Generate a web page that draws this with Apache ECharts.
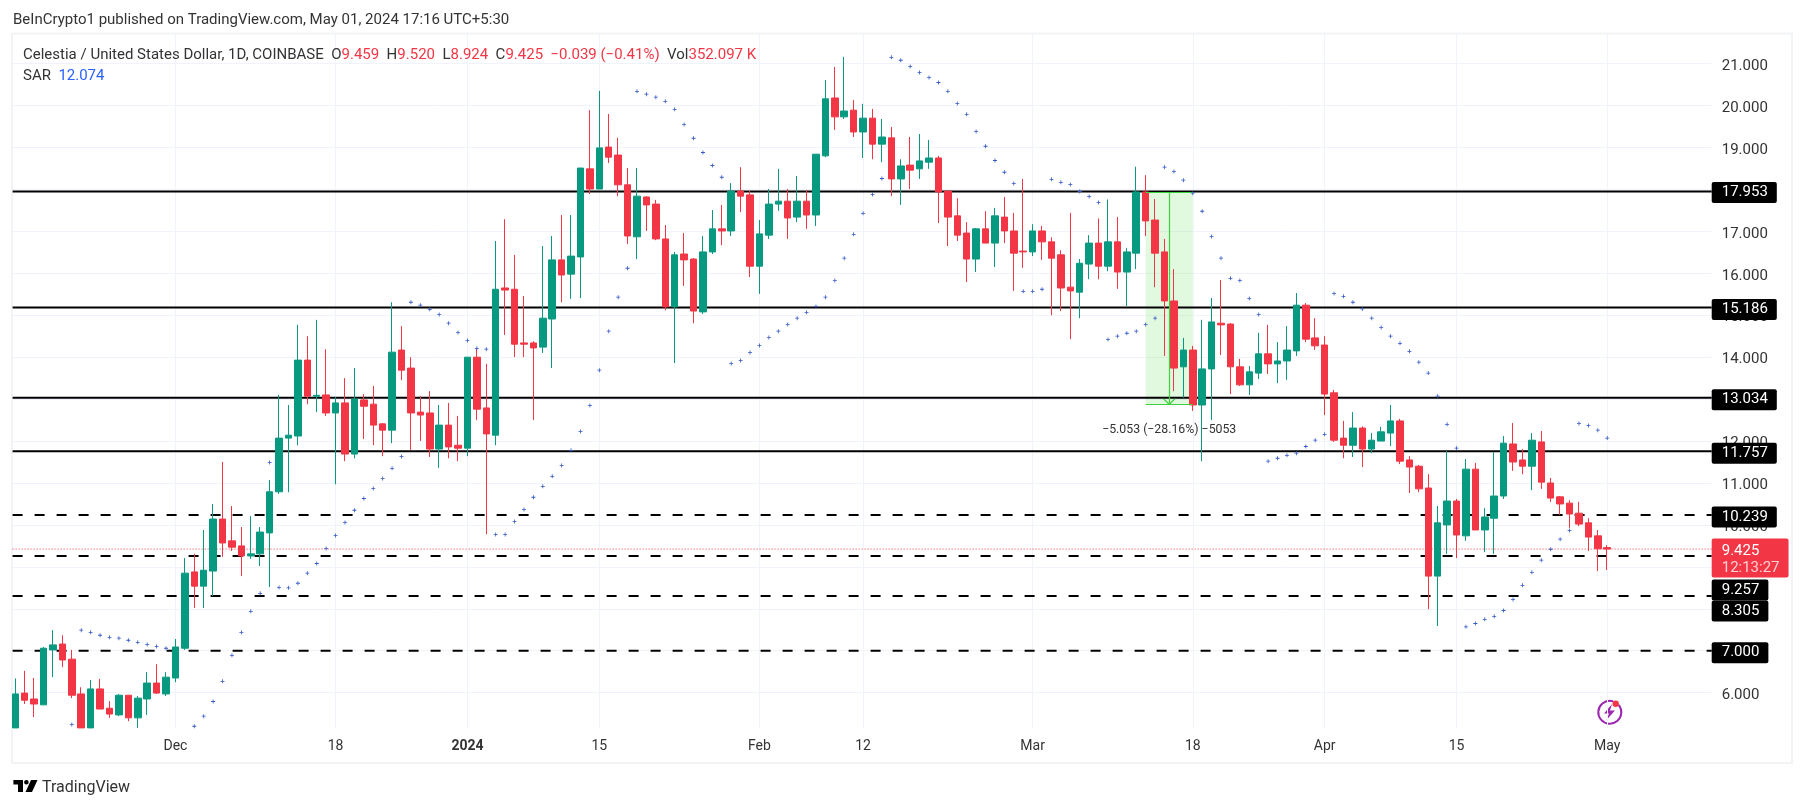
<!DOCTYPE html>
<html>
<head>
<meta charset="utf-8">
<title>Celestia / United States Dollar</title>
<style>
    html, body { margin: 0; padding: 0; background: #fff; }
    #chart { width: 1805px; height: 808px; }
</style>
</head>
<body>
<div id="chart"></div>
<script src="https://cdn.jsdelivr.net/npm/echarts@6/dist/echarts.min.js"></script>
<script>
const firstDay = '2023-11-14';

const opens = [
    5.16, 5.99, 5.85, 5.71, 7.02, 7.16, 6.80, 5.97, 5.16, 6.09,
    5.63, 5.47, 5.94, 5.40, 5.85, 6.23, 5.97, 6.35, 7.06, 8.88,
    8.54, 8.90, 10.14, 9.62, 9.50, 9.26, 9.31, 9.81, 10.79, 12.07,
    12.12, 13.93, 13.07, 13.10, 12.67, 12.91, 11.69, 12.98, 12.88, 12.41,
    12.26, 14.17, 13.74, 12.69, 12.67, 11.81, 12.38, 11.90, 11.83, 14.00,
    12.79, 12.14, 15.65, 15.62, 14.34, 14.34, 14.24, 14.91, 16.32, 15.98,
    16.39, 18.49, 18.01, 19.01, 18.82, 18.11, 16.87, 17.82, 17.65, 16.82,
    15.20, 16.46, 16.34, 15.08, 16.51, 17.06, 17.01, 17.96, 17.87, 16.17,
    16.91, 17.65, 17.72, 17.34, 17.72, 17.39, 18.80, 20.18, 19.73, 19.89,
    19.37, 19.70, 19.08, 19.23, 18.25, 18.58, 18.49, 18.65, 18.75, 17.96,
    17.37, 16.96, 16.34, 17.06, 16.72, 17.34, 17.01, 16.53, 16.51, 17.01,
    16.75, 16.44, 15.67, 15.55, 16.22, 16.72, 16.17, 16.75, 16.03, 16.48,
    17.94, 17.27, 16.51, 15.34, 13.77, 14.17, 12.86, 13.72, 14.81, 14.79,
    13.77, 13.34, 13.62, 14.08, 13.84, 13.91, 14.15, 15.24, 14.46, 14.29,
    13.15, 12.07, 11.90, 12.31, 11.81, 12.00, 12.19, 12.48, 11.55, 11.40,
    10.88, 8.78, 10.00, 10.57, 9.74, 11.33, 9.88, 10.16, 10.69, 11.93,
    11.55, 11.40, 11.98, 11.00, 10.67, 10.52, 10.28, 10.05, 9.74, 9.459,
];

const closes = [
    5.97, 5.82, 5.73, 7.06, 7.14, 6.78, 5.94, 5.16, 6.09, 5.61,
    5.49, 5.94, 5.40, 5.87, 6.23, 5.99, 6.37, 7.09, 8.85, 8.54,
    8.92, 10.14, 9.57, 9.47, 9.26, 9.31, 9.83, 10.79, 12.07, 12.14,
    13.93, 13.07, 13.09, 12.67, 12.91, 11.69, 13.00, 12.83, 12.38, 12.26,
    14.12, 13.69, 12.67, 12.62, 11.81, 12.38, 11.86, 11.83, 14.00, 12.76,
    12.17, 15.62, 15.60, 14.31, 14.31, 14.22, 14.93, 16.32, 15.96, 16.41,
    18.51, 18.01, 18.99, 18.77, 18.11, 16.89, 17.84, 17.63, 16.82, 15.20,
    16.44, 16.32, 15.10, 16.51, 17.06, 17.01, 17.96, 17.84, 16.17, 16.94,
    17.65, 17.72, 17.32, 17.72, 17.39, 18.84, 20.16, 19.73, 19.87, 19.37,
    19.70, 19.08, 19.25, 18.25, 18.56, 18.46, 18.68, 18.75, 17.94, 17.34,
    16.91, 16.34, 17.06, 16.72, 17.37, 17.01, 16.48, 16.51, 17.01, 16.75,
    16.36, 15.65, 15.58, 16.24, 16.72, 16.17, 16.75, 16.03, 16.51, 17.94,
    17.25, 16.48, 15.34, 13.74, 14.17, 12.86, 13.72, 14.84, 14.77, 13.77,
    13.34, 13.65, 14.08, 13.84, 13.91, 14.17, 15.24, 14.43, 14.27, 13.12,
    12.02, 11.90, 12.31, 11.81, 12.02, 12.22, 12.48, 11.52, 11.38, 10.86,
    8.78, 10.05, 10.57, 9.76, 11.33, 9.88, 10.19, 10.69, 11.95, 11.50,
    11.40, 12.02, 11.02, 10.64, 10.50, 10.26, 10.02, 9.71, 9.43, 9.425,
];

const highs = [
    6.34, 6.52, 6.35, 7.09, 7.49, 7.37, 7.02, 6.13, 6.30, 6.33,
    5.80, 5.97, 5.94, 5.92, 6.49, 6.68, 6.49, 7.28, 9.21, 9.31,
    9.88, 10.50, 11.50, 10.45, 9.95, 10.21, 9.95, 11.07, 13.10, 12.86,
    14.77, 14.50, 14.89, 14.19, 13.05, 13.50, 13.74, 13.12, 13.31, 12.43,
    15.31, 14.74, 14.00, 13.07, 13.19, 12.86, 12.91, 12.60, 14.00, 14.22,
    13.84, 16.77, 17.29, 16.44, 15.46, 14.38, 16.65, 16.89, 17.39, 17.39,
    18.51, 19.89, 20.35, 19.80, 19.23, 18.51, 18.51, 17.84, 17.75, 17.15,
    16.51, 16.96, 16.36, 16.89, 17.51, 17.63, 18.15, 18.53, 17.96, 17.27,
    18.01, 18.49, 18.01, 18.32, 17.99, 18.84, 20.61, 20.92, 21.16, 20.13,
    20.04, 19.92, 19.68, 19.49, 18.72, 19.25, 19.32, 19.18, 18.80, 17.96,
    17.79, 17.22, 17.08, 17.48, 17.56, 17.82, 17.44, 18.25, 17.17, 17.13,
    16.86, 16.55, 17.44, 16.34, 16.91, 17.31, 17.76, 17.34, 16.60, 18.54,
    18.34, 17.77, 16.82, 16.10, 14.46, 14.27, 14.89, 15.41, 15.84, 14.81,
    13.96, 13.79, 14.58, 14.77, 14.36, 14.74, 15.53, 15.29, 14.93, 14.50,
    13.22, 12.48, 12.69, 12.35, 12.19, 12.34, 12.86, 12.53, 11.64, 11.43,
    11.21, 10.45, 11.76, 10.62, 11.57, 11.48, 10.40, 11.74, 12.12, 12.43,
    11.81, 12.19, 12.24, 11.12, 10.69, 10.59, 10.55, 10.16, 9.88, 9.52,
];

const lows = [
    5.16, 5.73, 5.42, 5.71, 6.37, 6.61, 5.87, 5.16, 5.16, 5.61,
    5.40, 5.44, 5.32, 5.16, 5.47, 5.97, 5.92, 6.25, 7.02, 8.02,
    8.02, 8.30, 9.24, 9.38, 8.78, 9.19, 9.02, 8.52, 10.74, 10.78,
    11.90, 12.88, 12.69, 12.60, 10.97, 11.52, 11.59, 12.05, 11.90, 11.64,
    11.95, 13.45, 11.79, 12.00, 11.62, 11.36, 11.59, 11.52, 11.64, 12.50,
    9.78, 11.90, 14.53, 14.00, 14.00, 12.50, 14.10, 13.74, 15.31, 15.39,
    15.41, 17.89, 18.01, 18.63, 17.84, 16.70, 16.34, 17.01, 16.79, 15.12,
    13.86, 15.70, 14.81, 15.03, 16.46, 16.67, 16.89, 17.46, 15.91, 15.51,
    16.82, 17.49, 16.82, 17.22, 17.06, 17.13, 18.77, 19.42, 19.68, 19.25,
    18.75, 18.72, 18.65, 17.84, 17.63, 18.01, 18.25, 18.49, 17.20, 16.65,
    16.77, 15.79, 16.03, 16.72, 16.15, 16.72, 15.58, 16.13, 16.41, 16.32,
    15.00, 15.10, 14.43, 14.93, 15.86, 15.86, 16.05, 15.63, 15.22, 16.10,
    16.89, 15.67, 14.03, 13.19, 13.03, 12.72, 11.52, 12.50, 14.05, 13.12,
    13.31, 13.10, 13.48, 13.60, 13.38, 13.46, 14.03, 14.36, 14.17, 12.62,
    11.98, 11.59, 11.62, 11.38, 11.71, 12.00, 11.88, 11.45, 10.76, 10.78,
    7.99, 7.59, 9.31, 9.21, 9.62, 9.88, 9.35, 9.31, 10.62, 11.29,
    11.21, 10.83, 10.86, 10.55, 10.24, 9.93, 9.97, 9.38, 8.90, 8.924,
];

const sarValues = [
    null, null, null, null, null, null, 5.24, 7.49, 7.44, 7.37,
    7.32, 7.30, 7.25, 7.20, 7.15, 7.10, 7.06, null, null, 5.20,
    5.44, 5.79, 6.27, 6.89, 7.44, 7.94, 8.37, 11.49, 8.51, 8.50,
    8.61, 8.85, 9.08, 9.44, 9.75, 10.06, 10.35, 10.63, 10.87, 11.11,
    11.35, 11.63, 15.31, 15.24, 15.14, 15.02, 14.81, 14.59, 14.40, 14.21,
    14.19, 9.77, 9.77, 10.08, 10.37, 10.66, 10.92, 11.16, 11.42, 11.78,
    12.23, 12.85, 13.69, 14.62, 15.43, 16.12, 20.34, 20.27, 20.20, 20.10,
    19.91, 19.55, 19.22, 18.88, 18.57, 18.29, 13.85, 13.92, 14.11, 14.28,
    14.47, 14.62, 14.78, 14.93, 15.07, 15.21, 15.43, 15.83, 16.36, 16.93,
    17.43, 17.88, 18.26, 21.15, 21.08, 20.93, 20.79, 20.67, 20.55, 20.34,
    20.05, 19.79, 19.38, 19.03, 18.69, 18.41, 18.14, 15.57, 15.57, 15.62,
    18.24, 18.17, 18.12, 17.95, 17.83, 17.69, 14.42, 14.50, 14.57, 14.62,
    14.78, 14.93, 18.53, 18.43, 18.22, 17.91, 17.48, 16.88, 16.36, 15.88,
    15.83, 15.40, 15.02, 11.52, 11.59, 11.66, 11.71, 11.87, 12.02, 12.16,
    15.52, 15.45, 15.31, 15.15, 14.93, 14.71, 14.50, 14.33, 14.14, 13.88,
    13.62, 13.07, 12.40, 11.83, 7.57, 7.65, 7.75, 7.82, 7.96, 8.22,
    8.56, 8.87, 9.16, 9.42, 9.66, 9.87, 12.42, 12.37, 12.26, 12.07,
];

const solidLevels = [17.953, 15.186, 13.034, 11.757];
const dashedLevels = [10.239, 9.257, 8.305, 7.000];
const lastPrice = 9.425;
const countdown = '12:13:27';

const priceTicks = [6, 7, 8, 9, 10, 11, 12, 13, 14, 15, 16, 17, 18, 19, 20, 21];
const dayTicks = ['2023-12-01', '2023-12-18', '2024-01-01', '2024-01-15', '2024-02-01', '2024-02-12',
    '2024-03-01', '2024-03-18', '2024-04-01', '2024-04-15', '2024-05-01'];
const dayTickLabels = ['Dec', '18', '2024', '15', 'Feb', '12', 'Mar', '18', 'Apr', '15', 'May'];

const measureFrom = '2024-03-13';
const measureTo = '2024-03-18';
const measureTop = 17.93;
const measureBottom = 12.877;
const measureText = '\u22125.053 (\u221228.16%) \u22125053';

const GREEN = '#089981';
const RED = '#f23645';
const FONT = 'Roboto, sans-serif';

// x axis runs in whole days since the first candle, time axes do not take custom ticks
const toDay = s => (new Date(s).getTime() - new Date(firstDay).getTime()) / 86400000;
const tickDays = dayTicks.map(toDay);
const xMin = -0.287;
const xMax = 180.09;
const yMin = 5.158;
const yMax = 21.706;

const levelSeries = (value, dash) => ({
    type: 'line',
    z: 3,
    silent: true,
    symbol: 'none',
    lineStyle: {color: '#000', width: 2, type: dash},
    data: [[xMin, value], [xMax, value]],
});

// pushed down like the tags in the reference, they would collide with the red one
const tagShift = {17.953: 1, 15.186: 2, 13.034: 2, 11.757: 2, 10.239: 2, 9.257: 34, 8.305: 15, 7.000: 2};

const tagItem = value => ({
    value: [xMax, value],
    label: {
        show: true,
        position: 'right',
        distance: 0,
        offset: [0, tagShift[value]],
        formatter: value.toFixed(3),
        color: '#fff',
        backgroundColor: '#000',
        borderRadius: 2,
        padding: [4, 9, 3, 10],
        fontFamily: FONT,
        fontSize: 15,
        lineHeight: 14,
    },
});

const measureMid = (toDay(measureFrom) + toDay(measureTo)) / 2;
const segment = (x1, y1, x2, y2) => [{xAxis: x1, yAxis: y1}, {xAxis: x2, yAxis: y2}];

const option = {
    animation: false,
    backgroundColor: '#fff',
    textStyle: {fontFamily: FONT},
    title: [
        {
            text: 'BeInCrypto1 published on TradingView.com, May 01, 2024 17:16 UTC+5:30',
            left: 13, top: 13, padding: 0,
            textStyle: {fontFamily: FONT, fontSize: 15, fontWeight: 'normal', color: '#333'},
        },
        {
            text: '{k|Celestia / United States Dollar, 1D, COINBASE}  {k|O}{v|9.459}  {k|H}{v|9.520}  {k|L}{v|8.924}  {k|C}{v|9.425}  {v|\u22120.039 (\u22120.41%)}  {k|Vol}{v|352.097 K}',
            left: 23, top: 48, padding: 0,
            textStyle: {
                fontSize: 15, fontWeight: 'normal',
                rich: {
                    k: {fontFamily: FONT, fontSize: 15, color: '#333'},
                    v: {fontFamily: FONT, fontSize: 15, color: RED},
                },
            },
        },
        {
            text: '{k|SAR}  {v|12.074}',
            left: 23, top: 69, padding: 0,
            textStyle: {
                fontSize: 15, fontWeight: 'normal',
                rich: {
                    k: {fontFamily: FONT, fontSize: 15, color: '#333'},
                    v: {fontFamily: FONT, fontSize: 15, color: '#2962ff'},
                },
            },
        },
        {
            text: 'TradingView',
            left: 42, top: 780, padding: 0,
            textStyle: {fontFamily: FONT, fontSize: 16, fontWeight: 'normal', color: '#333'},
        },
    ],
    grid: {left: 12.6, right: 93.3, top: 34, bottom: 80},
    xAxis: {
        type: 'value',
        min: xMin,
        max: xMax,
        axisLine: {show: false},
        axisTick: {show: false, customValues: tickDays},
        splitLine: {show: true, lineStyle: {color: '#f0f3fa', width: 1}},
        axisLabel: {
            customValues: tickDays,
            margin: 11,
            color: '#333',
            fontFamily: FONT,
            fontSize: 14,
            formatter: value => {
                const text = dayTickLabels[tickDays.indexOf(value)];
                return text === '2024' ? '{b|2024}' : text;
            },
            rich: {b: {fontFamily: FONT, fontSize: 14, fontWeight: 'bold', color: '#333'}},
        },
    },
    yAxis: {
        type: 'value',
        position: 'right',
        min: yMin,
        max: yMax,
        axisLine: {show: false},
        axisTick: {show: false, customValues: priceTicks},
        splitLine: {show: true, lineStyle: {color: '#f0f3fa', width: 1}},
        axisLabel: {
            customValues: priceTicks,
            margin: 10,
            formatter: value => `{n|${value.toFixed(3)}}`,
            rich: {n: {fontFamily: FONT, fontSize: 15, color: '#333', padding: [5, 0, 0, 0]}},
        },
    },
    series: [
        {
            name: 'measure',
            type: 'line',
            z: 2,
            silent: true,
            data: [],
            markArea: {
                silent: true,
                itemStyle: {color: 'rgba(76, 222, 60, 0.17)'},
                data: [segment(toDay(measureFrom), measureTop, toDay(measureTo), measureBottom)],
            },
            markLine: {
                silent: true,
                symbol: 'none',
                label: {show: false},
                lineStyle: {color: '#3ed23e', width: 1.2, type: 'solid'},
                data: [
                    segment(toDay(measureFrom), measureTop, toDay(measureTo), measureTop),
                    segment(toDay(measureFrom), measureBottom, toDay(measureTo), measureBottom),
                    segment(measureMid, measureTop, measureMid, measureBottom),
                    segment(measureMid - 0.6, measureBottom + 0.13, measureMid, measureBottom),
                    segment(measureMid + 0.6, measureBottom + 0.13, measureMid, measureBottom),
                ],
            },
        },
        ...solidLevels.map(v => levelSeries(v, 'solid')),
        ...dashedLevels.map(v => levelSeries(v, [10, 12])),
        {
            type: 'line',
            z: 3,
            silent: true,
            symbol: 'none',
            lineStyle: {color: RED, width: 1, type: [1, 2]},
            data: [[xMin, lastPrice], [xMax, lastPrice]],
        },
        {
            name: 'Celestia',
            type: 'candlestick',
            z: 4,
            barWidth: 7,
            itemStyle: {
                color: GREEN,
                color0: RED,
                borderColor: GREEN,
                borderColor0: RED,
                borderColorDoji: RED,
                borderWidth: 1,
            },
            data: opens.map((o, i) => [i, o, closes[i], lows[i], highs[i]]),
        },
        {
            name: 'SAR',
            type: 'scatter',
            z: 5,
            silent: true,
            symbol: 'path://M2 0h1v2h2v1H3v2H2V3H0V2h2z',
            symbolSize: 4,
            itemStyle: {color: '#3558c8', opacity: 1},
            data: sarValues.map((v, i) => [i, v]).filter(p => p[1] !== null),
        },
        {
            name: 'measure label',
            type: 'scatter',
            z: 6,
            silent: true,
            symbolSize: 0,
            itemStyle: {opacity: 1},
            data: [{
                value: [measureMid, measureBottom],
                label: {
                    show: true,
                    position: 'bottom',
                    distance: 20,
                    formatter: measureText,
                    color: '#333',
                    fontFamily: FONT,
                    fontSize: 12.3,
                },
            }],
        },
        {
            name: 'price tags',
            type: 'scatter',
            z: 7,
            silent: true,
            clip: false,
            symbolSize: 0,
            itemStyle: {opacity: 1},
            data: [
                ...solidLevels.map(tagItem),
                ...dashedLevels.map(tagItem),
                {
                    value: [xMax, lastPrice],
                    label: {
                        show: true,
                        position: 'right',
                        distance: 0,
                        offset: [0, 9],
                        formatter: `{p|${lastPrice.toFixed(3)}}\n{t|${countdown}}`,
                        backgroundColor: RED,
                        borderRadius: 2,
                        padding: [4, 9, 1, 10],
                        rich: {
                            p: {fontFamily: FONT, fontSize: 15, lineHeight: 17, color: '#fff'},
                            t: {fontFamily: FONT, fontSize: 15, lineHeight: 17, color: '#fbd0d4'},
                        },
                    },
                },
            ],
        },
    ],
    graphic: [
        {
            type: 'rect',
            z: -1,
            silent: true,
            shape: {x: 12, y: 33.5, width: 1780, height: 729.5},
            style: {fill: 'none', stroke: '#f1f3f5', lineWidth: 2},
        },
        // TradingView mark
        {type: 'polygon', silent: true, shape: {points: [[13.4, 780], [23, 780], [23, 792], [18, 792], [18, 784.6], [13.4, 784.6]]}, style: {fill: '#000'}},
        {type: 'circle', silent: true, shape: {cx: 26.4, cy: 782.3, r: 2.3}, style: {fill: '#000'}},
        {type: 'polygon', silent: true, shape: {points: [[31, 780], [37.5, 780], [32, 792], [25.5, 792]]}, style: {fill: '#000'}},
        // bolt badge
        {type: 'arc', silent: true, shape: {cx: 1609.8, cy: 712.3, r: 11.5, startAngle: -0.7, endAngle: 5.0}, style: {fill: 'none', stroke: '#9c27b0', lineWidth: 2}},
        {type: 'polygon', silent: true, shape: {points: [[1612, 704], [1604, 713.5], [1609, 713.5], [1606.5, 720], [1615, 710.5], [1610, 710.5]]}, style: {fill: '#9c27b0'}},
        {type: 'circle', silent: true, shape: {cx: 1615.7, cy: 703.7, r: 3.2}, style: {fill: RED}},
    ],
};

const chartDom = document.getElementById('chart');
const myChart = echarts.init(chartDom);
myChart.setOption(option);
</script>
</body>
</html>
